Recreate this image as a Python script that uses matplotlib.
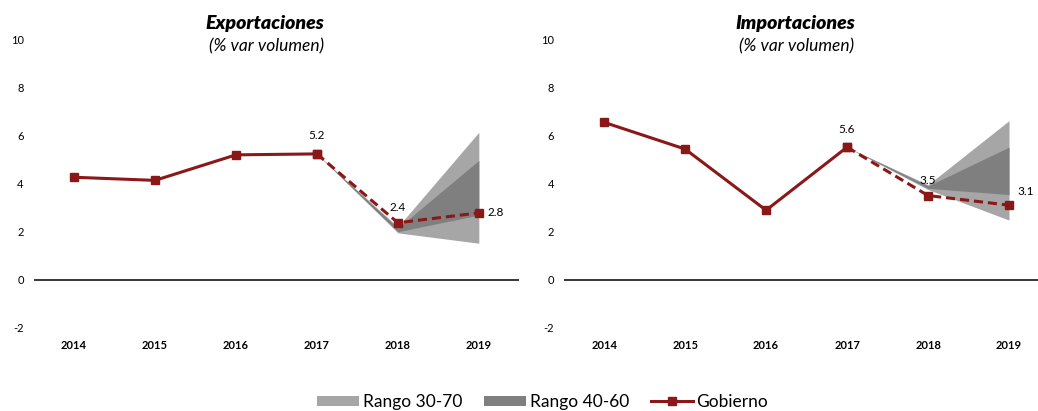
import matplotlib
matplotlib.use("Agg")
import matplotlib.pyplot as plt
from matplotlib.patches import Patch
from matplotlib.lines import Line2D

plt.rcParams['font.family'] = ['Lato', 'DejaVu Sans']
plt.rcParams['axes.unicode_minus'] = False

# Data
years = ['2014', '2015', '2016', '2017', '2018', '2019']
yticks = [-2, 0, 2, 4, 6, 8, 10]

exp_gob = [4.26, 4.13, 5.19, 5.23, 2.37, 2.78]
exp_r3070_lo = [5.23, 1.95, 1.52]
exp_r3070_hi = [5.23, 2.20, 6.13]
exp_r4060_lo = [5.23, 2.00, 2.69]
exp_r4060_hi = [5.23, 2.15, 4.96]
exp_labels = ['5.2', '2.4', '2.8']

imp_gob = [6.54, 5.43, 2.89, 5.51, 3.50, 3.10]
imp_r3070_lo = [5.51, 3.75, 2.48]
imp_r3070_hi = [5.51, 3.95, 6.61]
imp_r4060_lo = [5.51, 3.80, 3.54]
imp_r4060_hi = [5.51, 3.90, 5.51]
imp_labels = ['5.6', '3.5', '3.1']

RED = '#8B1818'
LIGHT = '#A6A6A6'
DARK = '#7F7F7F'

fig = plt.figure(figsize=(10.38, 4.11), dpi=100)
ax1 = fig.add_axes([0.0323, 0.202, 0.468, 0.703])
ax2 = fig.add_axes([0.543, 0.202, 0.457, 0.703])


def draw(ax, gob, lo1, hi1, lo2, hi2, labels, xmax):
    x = list(range(len(years)))
    xf = x[3:]
    ax.fill_between(xf, lo1, hi1, color=LIGHT, lw=0, zorder=1)
    ax.fill_between(xf, lo2, hi2, color=DARK, lw=0, zorder=2)
    ax.axhline(0, color='black', lw=1.1, zorder=1)
    ax.plot(x[:4], gob[:4], color=RED, lw=2.2, marker='s', ms=6, zorder=4)
    ax.plot(x[3:], gob[3:], color=RED, lw=2.2, ls=(0, (3, 1.6)), marker='s',
            ms=6, zorder=4)
    # data labels
    ax.annotate(labels[0], (3, gob[3]), xytext=(0, 9), textcoords='offset points',
                ha='center', va='bottom', fontsize=8.5)
    ax.annotate(labels[1], (4, gob[4]), xytext=(0, 7), textcoords='offset points',
                ha='center', va='bottom', fontsize=8.5)
    ax.annotate(labels[2], (5, gob[5]), xytext=(6, 0), textcoords='offset points',
                ha='left', va='center', fontsize=8.5)
    ax.set_xlim(-0.5, xmax)
    ax.set_ylim(-2, 10)
    ax.set_yticks(yticks)
    ax.set_xticks(x)
    ax.set_xticklabels(years, fontsize=8, fontweight='bold')
    ax.tick_params(axis='y', length=0, pad=7, labelsize=8)
    ax.tick_params(axis='x', length=0, pad=9)
    for s in ax.spines.values():
        s.set_visible(False)
    ax.patch.set_visible(False)


draw(ax1, exp_gob, exp_r3070_lo, exp_r3070_hi, exp_r4060_lo, exp_r4060_hi,
     exp_labels, 5.5)
draw(ax2, imp_gob, imp_r3070_lo, imp_r3070_hi, imp_r4060_lo, imp_r4060_hi,
     imp_labels, 5.358)
# 3.1 label sits a bit higher in the import chart
for t in ax2.texts:
    if t.get_text() == '3.1':
        t.set_position((6, 10))

# titles
fig.text(265 / 1038, 1 - 24 / 411, 'Exportaciones', ha='center', va='center',
         fontsize=14, fontweight='heavy', style='italic')
fig.text(267 / 1038, 1 - 46 / 411, '(% var volumen)', ha='center', va='center',
         fontsize=12.5, style='italic')
fig.text(795 / 1038, 1 - 24 / 411, 'Importaciones', ha='center', va='center',
         fontsize=14, fontweight='heavy', style='italic')
fig.text(797 / 1038, 1 - 46 / 411, '(% var volumen)', ha='center', va='center',
         fontsize=12.5, style='italic')

handles = [Patch(facecolor=LIGHT, edgecolor='none', label='Rango 30-70'),
           Patch(facecolor=DARK, edgecolor='none', label='Rango 40-60'),
           Line2D([], [], color=RED, lw=2.2, marker='s', ms=6, label='Gobierno')]
fig.legend(handles=handles, loc='center', bbox_to_anchor=(0.523, 0.022), ncol=3,
           frameon=False, fontsize=12.5, handlelength=2.4, handleheight=0.55,
           handletextpad=0.2, columnspacing=1.3)

fig.savefig('out.png', dpi=100)
